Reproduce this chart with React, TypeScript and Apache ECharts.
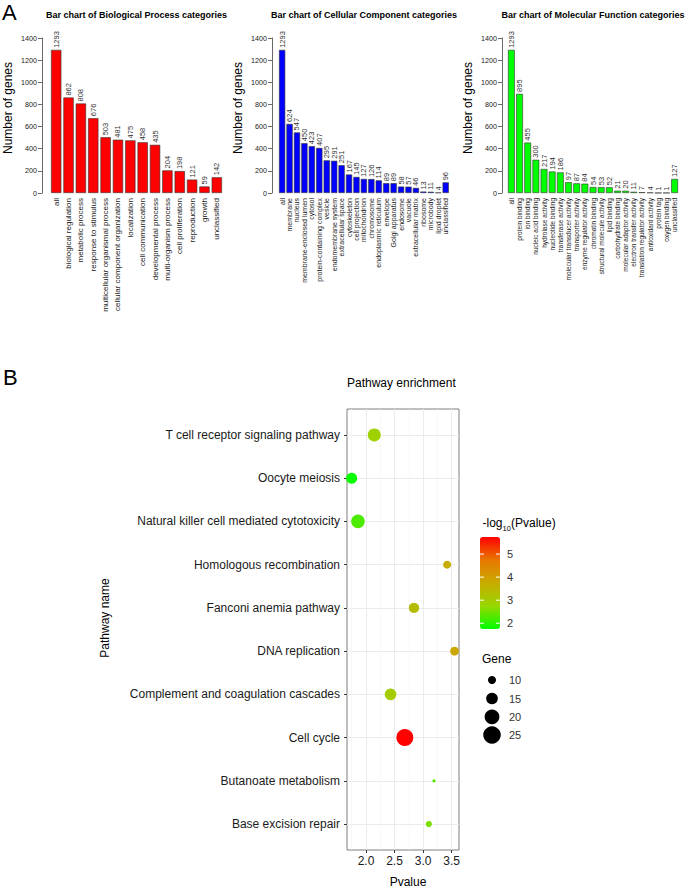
import React, { useEffect, useRef } from 'react';
import * as echarts from 'echarts';

const FONT = '"Liberation Sans", Arial, Helvetica, sans-serif';

// ---- Panel A data ----
const bpCategories = ['all', 'biological regulation', 'metabolic process', 'response to stimulus', 'multicellular organismal process', 'cellular component organization', 'localization', 'cell communication', 'developmental process', 'multi-organism process', 'cell proliferation', 'reproduction', 'growth', 'unclassified'];
const bpValues = [1293, 862, 808, 676, 503, 481, 475, 458, 435, 204, 198, 121, 59, 142];

const ccCategories = ['all', 'membrane', 'nucleus', 'membrane-enclosed lumen', 'cytosol', 'protein-containing complex', 'vesicle', 'endomembrane system', 'extracellular space', 'cytoskeleton', 'cell projection', 'mitochondrion', 'chromosome', 'endoplasmic reticulum', 'envelope', 'Golgi apparatus', 'endosome', 'vacuole', 'extracellular matrix', 'ribosome', 'microbody', 'lipid droplet', 'unclassified'];
const ccValues = [1293, 624, 547, 450, 423, 407, 295, 291, 251, 167, 145, 127, 126, 114, 89, 89, 58, 57, 46, 13, 11, 4, 96];

const mfCategories = ['all', 'protein binding', 'ion binding', 'nucleic acid binding', 'hydrolase activity', 'nucleotide binding', 'transferase activity', 'molecular transducer activity', 'transporter activity', 'enzyme regulator activity', 'chromatin binding', 'structural molecule activity', 'lipid binding', 'carbohydrate binding', 'molecular adaptor activity', 'electron transfer activity', 'translation regulator activity', 'antioxidant activity', 'protein tag', 'oxygen binding', 'unclassified'];
const mfValues = [1293, 895, 455, 300, 217, 194, 186, 97, 87, 84, 54, 53, 52, 21, 20, 11, 7, 4, 1, 1, 127];

const countMin = 0;
const countMax = 1400;
const countStep = 200;

// ---- Panel B data (listed bottom to top) ----
const pathwayNames = ['Base excision repair', 'Butanoate metabolism', 'Cell cycle', 'Complement and coagulation cascades', 'DNA replication', 'Fanconi anemia pathway', 'Homologous recombination', 'Natural killer cell mediated cytotoxicity', 'Oocyte meiosis', 'T cell receptor signaling pathway'];
const pathwayPvalue = [3.10, 3.19, 2.68, 2.43, 3.55, 2.84, 3.42, 1.86, 1.75, 2.145];
const pathwayLogP = [2.55, 2.3, 5.72, 3.0, 3.8, 3.35, 3.7, 2.25, 1.8, 2.9];
const pathwayGene = [8, 5, 24, 15, 11, 13, 10, 18, 14, 17];

const xMajorTicks = [2.0, 2.5, 3.0, 3.5];
const xMinorTicks = [1.75, 2.25, 2.75, 3.25];
const colorTicks = [2, 3, 4, 5];
const geneLegendValues = [10, 15, 20, 25];
const colorMin = 1.75;
const colorMax = 5.74;
const colorStops = ['#00FF00', '#98D700', '#C8AB00', '#E87700', '#FF0000'];

const geneSize = (g: number) => 5.16 * Math.sqrt(g) - 8.3;

type BarCfg = {
  idx: number; left: number; width: number; axisX: number; color: string;
  cats: string[]; vals: number[]; catFont: number; title: string;
};

const barTop = 38;
const barHeight = 155;

function barParts(c: BarCfg) {
  const grid = { left: c.left, top: barTop, width: c.width, height: barHeight };
  const xAxis = {
    gridIndex: c.idx, type: 'category', data: c.cats,
    axisLine: { show: false }, axisTick: { show: false }, splitLine: { show: false },
    axisLabel: { interval: 0, rotate: 90, fontSize: c.catFont, fontFamily: FONT, color: '#1a1a1a', margin: 5 },
  };
  const yAxis = {
    gridIndex: c.idx, type: 'value', min: countMin, max: countMax, interval: countStep,
    offset: c.left - c.axisX,
    axisLine: { show: true, lineStyle: { color: '#444', width: 0.8 } },
    axisTick: { show: true, length: 4, lineStyle: { color: '#444', width: 0.8 } },
    axisLabel: { fontSize: 7.2, fontFamily: FONT, color: '#222', margin: 5, formatter: (v: number) => String(v) },
    splitLine: { show: false },
  };
  const series = {
    type: 'bar', xAxisIndex: c.idx, yAxisIndex: c.idx, data: c.vals, barWidth: '83.3%',
    itemStyle: { color: c.color, borderColor: '#333', borderWidth: 0.6 },
    label: {
      show: true, position: 'top', rotate: 90, align: 'left', verticalAlign: 'middle', distance: 2,
      fontSize: 7.5, fontFamily: FONT, color: '#333',
    },
  };
  return { grid, xAxis, yAxis, series };
}

let gid = 0;
function txt(text: string, x: number, y: number, opts: any = {}) {
  const { rotation, z, ...style } = opts;
  gid += 1;
  return {
    id: 'g' + gid, type: 'text', x, y, rotation: rotation || 0, z: z || 50,
    style: {
      text, fontFamily: FONT, fontSize: 12, fill: '#1a1a1a',
      textAlign: 'center', align: 'center', textVerticalAlign: 'middle', verticalAlign: 'middle',
      ...style,
    },
  };
}

export default function App() {
  const ref = useRef<HTMLDivElement>(null);
  useEffect(() => {
    if (!ref.current) return;
    const chart = echarts.init(ref.current, null, { renderer: 'svg' });
    gid = 0;

    const cfgs: BarCfg[] = [
      { idx: 0, left: 50, width: 173, axisX: 42, color: '#FF0000', cats: bpCategories, vals: bpValues, catFont: 8, title: 'Bar chart of Biological Process categories' },
      { idx: 1, left: 278.4, width: 171, axisX: 272, color: '#0000FF', cats: ccCategories, vals: ccValues, catFont: 7, title: 'Bar chart of Cellular Component categories' },
      { idx: 2, left: 507.3, width: 171.4, axisX: 502, color: '#00FF00', cats: mfCategories, vals: mfValues, catFont: 6.5, title: 'Bar chart of Molecular Function categories' },
    ];
    const parts = cfgs.map(barParts);

    const gLeft = 347, gTop = 409, gW = 112, gH = 441;
    const yIdx = pathwayNames.map((_, i) => i + 1);

    const graphics: any[] = [];
    graphics.push(txt('A', 2, 12, { fontSize: 22, textAlign: 'left', align: 'left', fill: '#000' }));
    graphics.push(txt('B', 3, 377, { fontSize: 22, textAlign: 'left', align: 'left', fill: '#000' }));
    cfgs.forEach((c) => {
      graphics.push(txt(c.title, c.left + c.width / 2, 15, { fontSize: 9, fontWeight: 'bold', fill: '#000' }));
      graphics.push(txt('Number of genes', c.axisX - 34, 108, { fontSize: 12, fill: '#000', rotation: Math.PI / 2 }));
    });
    graphics.push(txt('Pathway enrichment', gLeft, 383, { textAlign: 'left', align: 'left', fill: '#000' }));
    graphics.push(txt('Pathway name', 105, 618, { rotation: Math.PI / 2, fill: '#000' }));
    graphics.push(txt('Pvalue', 408, 882, { fill: '#000' }));

    // colour legend
    const cbX = 480, cbY = 537, cbW = 20, cbH = 92;
    graphics.push(txt('-log', 482.5, 523, { textAlign: 'left', align: 'left', fill: '#000' }));
    graphics.push(txt('10', 502.5, 528.5, { fontSize: 7.5, textAlign: 'left', align: 'left', fill: '#000' }));
    graphics.push(txt('(Pvalue)', 511, 523, { textAlign: 'left', align: 'left', fill: '#000' }));
    colorTicks.forEach((v, i) => {
      const y = cbY + cbH - ((v - colorMin) / (colorMax - colorMin)) * cbH;
      graphics.push({ id: 'tl' + i, type: 'line', z: 100, shape: { x1: cbX, y1: y, x2: cbX + 4, y2: y }, style: { stroke: '#fff', lineWidth: 1 } });
      graphics.push({ id: 'tr' + i, type: 'line', z: 100, shape: { x1: cbX + cbW - 4, y1: y, x2: cbX + cbW, y2: y }, style: { stroke: '#fff', lineWidth: 1 } });
      graphics.push(txt(String(v), 507, y, { fontSize: 11, textAlign: 'left', align: 'left', fill: '#333' }));
    });

    // size legend
    graphics.push(txt('Gene', 482, 659, { textAlign: 'left', align: 'left', fill: '#000' }));
    const sizeY = [680, 698.5, 716.8, 735];
    geneLegendValues.forEach((g, i) => {
      graphics.push({ id: 'dot' + i, type: 'circle', z: 50, shape: { cx: 492, cy: sizeY[i], r: geneSize(g) / 2 }, style: { fill: '#000' } });
      graphics.push(txt(String(g), 509, sizeY[i], { fontSize: 11, textAlign: 'left', align: 'left', fill: '#333' }));
    });

    const option: any = {
      animation: false,
      backgroundColor: '#fff',
      grid: [
        ...parts.map((p) => p.grid),
        { left: gLeft, top: gTop, width: gW, height: gH, show: true, borderColor: '#7F7F7F', borderWidth: 1, backgroundColor: 'transparent' },
      ],
      xAxis: [
        ...parts.map((p) => p.xAxis),
        {
          gridIndex: 3, type: 'value', min: 1.668, max: 3.628,
          axisLine: { show: false },
          axisTick: { show: true, length: 3, customValues: xMajorTicks, lineStyle: { color: '#333' } },
          axisLabel: { customValues: xMajorTicks, formatter: (v: number) => Number(v).toFixed(1), fontSize: 12, fontFamily: FONT, color: '#1a1a1a', margin: 5 },
          splitLine: { show: true, lineStyle: { color: '#EBEBEB', width: 1 } },
        },
        {
          gridIndex: 3, type: 'value', min: 1.668, max: 3.628, position: 'top',
          axisLine: { show: false },
          axisTick: { show: false, customValues: xMinorTicks },
          axisLabel: { show: false, customValues: xMinorTicks },
          splitLine: { show: true, lineStyle: { color: '#F3F3F3', width: 0.6 } },
        },
      ],
      yAxis: [
        ...parts.map((p) => p.yAxis),
        {
          gridIndex: 3, type: 'value', min: 0.4, max: 10.6,
          axisLine: { show: false },
          axisTick: { show: true, length: 3, customValues: yIdx, lineStyle: { color: '#333' } },
          axisLabel: { customValues: yIdx, formatter: (v: number) => pathwayNames[Math.round(v) - 1] || '', fontSize: 12, fontFamily: FONT, color: '#1a1a1a', margin: 7 },
          splitLine: { show: true, lineStyle: { color: '#EBEBEB', width: 1 } },
        },
      ],
      visualMap: [{
        type: 'continuous', seriesIndex: 3, dimension: 2, min: colorMin, max: colorMax,
        inRange: { color: colorStops }, left: cbX, top: cbY, itemWidth: cbW, itemHeight: cbH,
        padding: 0, calculable: false, show: true, hoverLink: false,
      }],
      series: [
        ...parts.map((p) => p.series),
        {
          type: 'scatter', xAxisIndex: 3, yAxisIndex: 3,
          data: pathwayNames.map((_, i) => [pathwayPvalue[i], i + 1, pathwayLogP[i], pathwayGene[i]]),
          symbolSize: (val: number[]) => geneSize(val[3]),
          itemStyle: { opacity: 1 },
        },
      ],
      graphic: graphics,
    };
    chart.setOption(option);
    return () => chart.dispose();
  }, []);
  return <div ref={ref} style={{ position: 'absolute', left: 0, top: 0, width: 685, height: 890 }} />;
}
